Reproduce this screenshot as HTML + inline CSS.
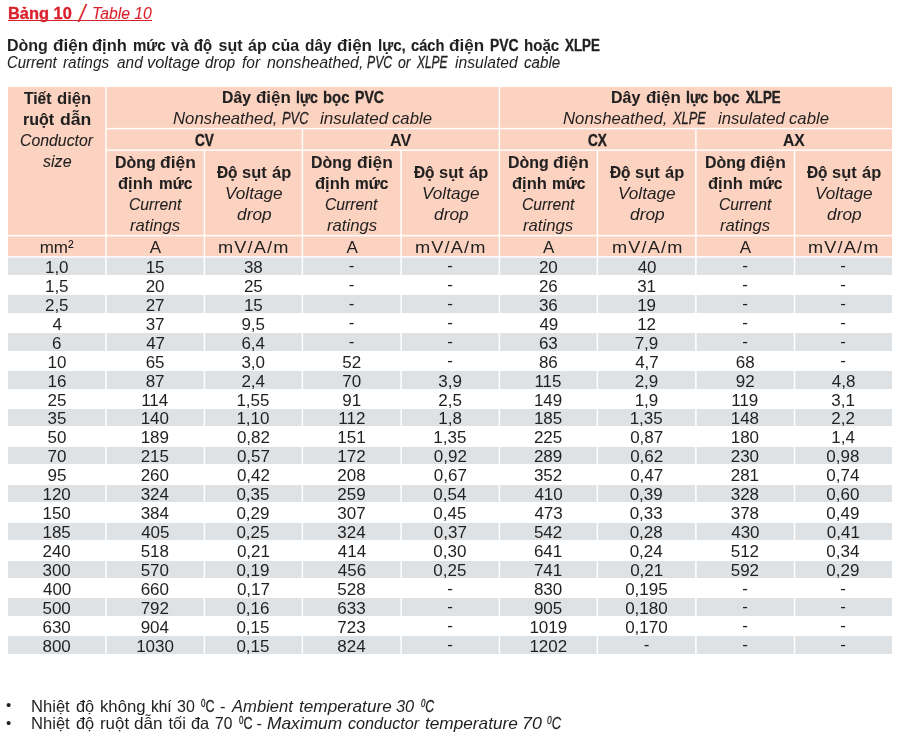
<!DOCTYPE html><html><head><meta charset="utf-8"><title>Bảng 10</title><style>
html,body{margin:0;padding:0;background:#fff}
body{width:899px;height:737px;position:relative;overflow:hidden;font-family:"Liberation Sans", "DejaVu Sans", sans-serif;color:#231f20}
.b{position:absolute}
.t{position:absolute;white-space:nowrap;line-height:20px;height:20px}
.t span{display:inline-block}
.g{filter:grayscale(1)}
sup{font-size:0.64em;vertical-align:0;position:relative;top:-0.5em;line-height:0}
.w{position:absolute;background:#fff}

</style></head><body>
<div class="b" style="left:8px;top:87px;width:884px;height:170px;background:#fcd2c0"></div>
<div class="b" style="left:8px;top:257.30px;width:884px;height:17.5px;background:#dfe2e5"></div>
<div class="b" style="left:8px;top:295.20px;width:884px;height:17.5px;background:#dfe2e5"></div>
<div class="b" style="left:8px;top:333.10px;width:884px;height:17.5px;background:#dfe2e5"></div>
<div class="b" style="left:8px;top:371.00px;width:884px;height:17.5px;background:#dfe2e5"></div>
<div class="b" style="left:8px;top:408.90px;width:884px;height:17.5px;background:#dfe2e5"></div>
<div class="b" style="left:8px;top:446.80px;width:884px;height:17.5px;background:#dfe2e5"></div>
<div class="b" style="left:8px;top:484.70px;width:884px;height:17.5px;background:#dfe2e5"></div>
<div class="b" style="left:8px;top:522.60px;width:884px;height:17.5px;background:#dfe2e5"></div>
<div class="b" style="left:8px;top:560.50px;width:884px;height:17.5px;background:#dfe2e5"></div>
<div class="b" style="left:8px;top:598.40px;width:884px;height:17.5px;background:#dfe2e5"></div>
<div class="b" style="left:8px;top:636.30px;width:884px;height:17.5px;background:#dfe2e5"></div>
<div class="w" style="left:105px;top:86px;width:1px;height:568px;opacity:0.85"></div>
<div class="w" style="left:106px;top:86px;width:1px;height:568px;opacity:0.65"></div>
<div class="w" style="left:498px;top:86px;width:1px;height:568px;opacity:0.35"></div>
<div class="w" style="left:499px;top:86px;width:1px;height:568px;opacity:1.00"></div>
<div class="w" style="left:500px;top:86px;width:1px;height:568px;opacity:0.15"></div>
<div class="w" style="left:301px;top:128px;width:1px;height:526px;opacity:0.35"></div>
<div class="w" style="left:302px;top:128px;width:1px;height:526px;opacity:1.00"></div>
<div class="w" style="left:303px;top:128px;width:1px;height:526px;opacity:0.15"></div>
<div class="w" style="left:695px;top:128px;width:1px;height:526px;opacity:0.85"></div>
<div class="w" style="left:696px;top:128px;width:1px;height:526px;opacity:0.65"></div>
<div class="w" style="left:203px;top:150px;width:1px;height:504px;opacity:0.35"></div>
<div class="w" style="left:204px;top:150px;width:1px;height:504px;opacity:1.00"></div>
<div class="w" style="left:205px;top:150px;width:1px;height:504px;opacity:0.15"></div>
<div class="w" style="left:400px;top:150px;width:1px;height:504px;opacity:0.65"></div>
<div class="w" style="left:401px;top:150px;width:1px;height:504px;opacity:0.85"></div>
<div class="w" style="left:596px;top:150px;width:1px;height:504px;opacity:0.35"></div>
<div class="w" style="left:597px;top:150px;width:1px;height:504px;opacity:1.00"></div>
<div class="w" style="left:598px;top:150px;width:1px;height:504px;opacity:0.15"></div>
<div class="w" style="left:793px;top:150px;width:1px;height:504px;opacity:0.25"></div>
<div class="w" style="left:794px;top:150px;width:1px;height:504px;opacity:1.00"></div>
<div class="w" style="left:795px;top:150px;width:1px;height:504px;opacity:0.25"></div>
<div class="w" style="left:106px;top:127px;width:786px;height:1px;opacity:0.15"></div>
<div class="w" style="left:106px;top:128px;width:786px;height:1px;opacity:1.00"></div>
<div class="w" style="left:106px;top:129px;width:786px;height:1px;opacity:0.35"></div>
<div class="w" style="left:106px;top:149px;width:786px;height:1px;opacity:0.55"></div>
<div class="w" style="left:106px;top:150px;width:786px;height:1px;opacity:0.95"></div>
<div class="w" style="left:8px;top:234px;width:884px;height:1px;opacity:0.15"></div>
<div class="w" style="left:8px;top:235px;width:884px;height:1px;opacity:1.00"></div>
<div class="w" style="left:8px;top:236px;width:884px;height:1px;opacity:0.35"></div>
<div class="w" style="left:8px;top:256px;width:884px;height:1px;opacity:0.85"></div>
<div class="w" style="left:8px;top:257px;width:884px;height:1px;opacity:0.65"></div>
<div class="b" style="left:8px;top:20px;width:144px;height:1px;background:#d9222d"></div>
<div class="t g" style="left:23.50px;top:89px"><span style="font-size:17.0px;font-weight:bold;transform:scaleX(0.9133);transform-origin:0 50%;-webkit-text-stroke:0.19px;">Tiết</span></div>
<div class="t g" style="left:57.02px;top:89px"><span style="font-size:17.0px;font-weight:bold;transform:scaleX(0.9818);transform-origin:0 50%;">diện</span></div>
<div class="t g" style="left:23.06px;top:110px"><span style="font-size:17.0px;font-weight:bold;transform:scaleX(0.9438);transform-origin:0 50%;-webkit-text-stroke:0.12px;">ruột</span></div>
<div class="t g" style="left:59.86px;top:110px"><span style="font-size:17.0px;font-weight:bold;transform:scaleX(1.0393);transform-origin:0 50%;">dẫn</span></div>
<div class="t g" style="left:19.97px;top:131px"><span style="font-size:17.0px;font-style:italic;transform:scaleX(0.9308);transform-origin:0 50%;-webkit-text-stroke:0.09px;">Conductor</span></div>
<div class="t g" style="left:42.60px;top:152px"><span style="font-size:17.0px;font-style:italic;transform:scaleX(0.9467);transform-origin:0 50%;-webkit-text-stroke:0.07px;">size</span></div>
<div class="t g" style="left:221.97px;top:88px"><span style="font-size:17.0px;font-weight:bold;transform:scaleX(0.9267);transform-origin:0 50%;-webkit-text-stroke:0.16px;">Dây</span></div>
<div class="t g" style="left:255.90px;top:88px"><span style="font-size:17.0px;font-weight:bold;transform:scaleX(0.9970);transform-origin:0 50%;">điện</span></div>
<div class="t g" style="left:295.67px;top:88px"><span style="font-size:17.0px;font-weight:bold;transform:scaleX(0.8280);transform-origin:0 50%;-webkit-text-stroke:0.38px;">lực</span></div>
<div class="t g" style="left:323.32px;top:88px"><span style="font-size:17.0px;font-weight:bold;transform:scaleX(0.8759);transform-origin:0 50%;-webkit-text-stroke:0.27px;">bọc</span></div>
<div class="t g" style="left:354.97px;top:88px"><span style="font-size:17.0px;font-weight:bold;transform:scaleX(0.8273);transform-origin:0 50%;-webkit-text-stroke:0.38px;">PVC</span></div>
<div class="t g" style="left:173.01px;top:109px"><span style="font-size:17.0px;font-style:italic;transform:scaleX(0.9864);transform-origin:0 50%;">Nonsheathed,</span></div>
<div class="t g" style="left:281.94px;top:109px"><span style="font-size:17.0px;font-style:italic;transform:scaleX(0.7588);transform-origin:0 50%;-webkit-text-stroke:0.31px;">PVC</span></div>
<div class="t g" style="left:320.20px;top:109px"><span style="font-size:17.0px;font-style:italic;transform:scaleX(1.0029);transform-origin:0 50%;">insulated</span></div>
<div class="t g" style="left:392.32px;top:109px"><span style="font-size:17.0px;font-style:italic;transform:scaleX(0.9821);transform-origin:0 50%;">cable</span></div>
<div class="t g" style="left:611.06px;top:88px"><span style="font-size:17.0px;font-weight:bold;transform:scaleX(0.9400);transform-origin:0 50%;-webkit-text-stroke:0.13px;">Dây</span></div>
<div class="t g" style="left:645.90px;top:88px"><span style="font-size:17.0px;font-weight:bold;transform:scaleX(0.9970);transform-origin:0 50%;">điện</span></div>
<div class="t g" style="left:685.66px;top:88px"><span style="font-size:17.0px;font-weight:bold;transform:scaleX(0.8360);transform-origin:0 50%;-webkit-text-stroke:0.36px;">lực</span></div>
<div class="t g" style="left:713.32px;top:88px"><span style="font-size:17.0px;font-weight:bold;transform:scaleX(0.8759);transform-origin:0 50%;-webkit-text-stroke:0.27px;">bọc</span></div>
<div class="t g" style="left:745.80px;top:88px"><span style="font-size:17.0px;font-weight:bold;transform:scaleX(0.7773);transform-origin:0 50%;-webkit-text-stroke:0.49px;">XLPE</span></div>
<div class="t g" style="left:563.01px;top:109px"><span style="font-size:17.0px;font-style:italic;transform:scaleX(0.9864);transform-origin:0 50%;">Nonsheathed,</span></div>
<div class="t g" style="left:672.70px;top:109px"><span style="font-size:17.0px;font-style:italic;transform:scaleX(0.7545);transform-origin:0 50%;-webkit-text-stroke:0.32px;">XLPE</span></div>
<div class="t g" style="left:717.80px;top:109px"><span style="font-size:17.0px;font-style:italic;transform:scaleX(0.9809);transform-origin:0 50%;">insulated</span></div>
<div class="t g" style="left:789.22px;top:109px"><span style="font-size:17.0px;font-style:italic;transform:scaleX(0.9821);transform-origin:0 50%;">cable</span></div>
<div class="t g" style="left:195.10px;top:131px"><span style="font-size:17.0px;font-weight:bold;transform:scaleX(0.8000);transform-origin:0 50%;-webkit-text-stroke:0.44px;">CV</span></div>
<div class="t g" style="left:389.95px;top:131px"><span style="font-size:17.0px;font-weight:bold;transform:scaleX(0.9524);transform-origin:0 50%;">AV</span></div>
<div class="t g" style="left:588.30px;top:131px"><span style="font-size:17.0px;font-weight:bold;transform:scaleX(0.8000);transform-origin:0 50%;-webkit-text-stroke:0.44px;">CX</span></div>
<div class="t g" style="left:783.28px;top:131px"><span style="font-size:17.0px;font-weight:bold;transform:scaleX(0.9227);transform-origin:0 50%;-webkit-text-stroke:0.17px;">AX</span></div>
<div class="t g" style="left:114.66px;top:153px"><span style="font-size:17.0px;font-weight:bold;transform:scaleX(0.9366);transform-origin:0 50%;-webkit-text-stroke:0.14px;">Dòng</span></div>
<div class="t g" style="left:159.98px;top:153px"><span style="font-size:17.0px;font-weight:bold;transform:scaleX(1.0242);transform-origin:0 50%;">điện</span></div>
<div class="t g" style="left:118.43px;top:174px"><span style="font-size:17.0px;font-weight:bold;transform:scaleX(0.9735);transform-origin:0 50%;">định</span></div>
<div class="t g" style="left:158.59px;top:174px"><span style="font-size:17.0px;font-weight:bold;transform:scaleX(0.9057);transform-origin:0 50%;-webkit-text-stroke:0.21px;">mức</span></div>
<div class="t g" style="left:128.58px;top:195px"><span style="font-size:17.0px;font-style:italic;transform:scaleX(0.9232);transform-origin:0 50%;-webkit-text-stroke:0.10px;">Current</span></div>
<div class="t g" style="left:130.10px;top:216px"><span style="font-size:17.0px;font-style:italic;transform:scaleX(0.9824);transform-origin:0 50%;">ratings</span></div>
<div class="t g" style="left:217.20px;top:163px"><span style="font-size:17.0px;font-weight:bold;transform:scaleX(0.9045);transform-origin:0 50%;-webkit-text-stroke:0.21px;">Độ</span></div>
<div class="t g" style="left:242.23px;top:163px"><span style="font-size:17.0px;font-weight:bold;transform:scaleX(0.9667);transform-origin:0 50%;">sụt</span></div>
<div class="t g" style="left:272.00px;top:163px"><span style="font-size:17.0px;font-weight:bold;transform:scaleX(0.9684);transform-origin:0 50%;">áp</span></div>
<div class="t g" style="left:224.68px;top:184px"><span style="font-size:17.0px;font-style:italic;transform:scaleX(1.0093);transform-origin:0 50%;">Voltage</span></div>
<div class="t g" style="left:236.68px;top:205px"><span style="font-size:17.0px;font-style:italic;transform:scaleX(1.0188);transform-origin:0 50%;">drop</span></div>
<div class="t g" style="left:311.26px;top:153px"><span style="font-size:17.0px;font-weight:bold;transform:scaleX(0.9366);transform-origin:0 50%;-webkit-text-stroke:0.14px;">Dòng</span></div>
<div class="t g" style="left:356.58px;top:153px"><span style="font-size:17.0px;font-weight:bold;transform:scaleX(1.0242);transform-origin:0 50%;">điện</span></div>
<div class="t g" style="left:315.03px;top:174px"><span style="font-size:17.0px;font-weight:bold;transform:scaleX(0.9735);transform-origin:0 50%;">định</span></div>
<div class="t g" style="left:355.19px;top:174px"><span style="font-size:17.0px;font-weight:bold;transform:scaleX(0.9057);transform-origin:0 50%;-webkit-text-stroke:0.21px;">mức</span></div>
<div class="t g" style="left:325.18px;top:195px"><span style="font-size:17.0px;font-style:italic;transform:scaleX(0.9232);transform-origin:0 50%;-webkit-text-stroke:0.10px;">Current</span></div>
<div class="t g" style="left:326.70px;top:216px"><span style="font-size:17.0px;font-style:italic;transform:scaleX(0.9824);transform-origin:0 50%;">ratings</span></div>
<div class="t g" style="left:414.05px;top:163px"><span style="font-size:17.0px;font-weight:bold;transform:scaleX(0.9045);transform-origin:0 50%;-webkit-text-stroke:0.21px;">Độ</span></div>
<div class="t g" style="left:439.08px;top:163px"><span style="font-size:17.0px;font-weight:bold;transform:scaleX(0.9667);transform-origin:0 50%;">sụt</span></div>
<div class="t g" style="left:468.85px;top:163px"><span style="font-size:17.0px;font-weight:bold;transform:scaleX(0.9684);transform-origin:0 50%;">áp</span></div>
<div class="t g" style="left:421.53px;top:184px"><span style="font-size:17.0px;font-style:italic;transform:scaleX(1.0093);transform-origin:0 50%;">Voltage</span></div>
<div class="t g" style="left:433.53px;top:205px"><span style="font-size:17.0px;font-style:italic;transform:scaleX(1.0188);transform-origin:0 50%;">drop</span></div>
<div class="t g" style="left:507.91px;top:153px"><span style="font-size:17.0px;font-weight:bold;transform:scaleX(0.9366);transform-origin:0 50%;-webkit-text-stroke:0.14px;">Dòng</span></div>
<div class="t g" style="left:553.23px;top:153px"><span style="font-size:17.0px;font-weight:bold;transform:scaleX(1.0242);transform-origin:0 50%;">điện</span></div>
<div class="t g" style="left:511.68px;top:174px"><span style="font-size:17.0px;font-weight:bold;transform:scaleX(0.9735);transform-origin:0 50%;">định</span></div>
<div class="t g" style="left:551.84px;top:174px"><span style="font-size:17.0px;font-weight:bold;transform:scaleX(0.9057);transform-origin:0 50%;-webkit-text-stroke:0.21px;">mức</span></div>
<div class="t g" style="left:521.83px;top:195px"><span style="font-size:17.0px;font-style:italic;transform:scaleX(0.9232);transform-origin:0 50%;-webkit-text-stroke:0.10px;">Current</span></div>
<div class="t g" style="left:523.35px;top:216px"><span style="font-size:17.0px;font-style:italic;transform:scaleX(0.9824);transform-origin:0 50%;">ratings</span></div>
<div class="t g" style="left:610.45px;top:163px"><span style="font-size:17.0px;font-weight:bold;transform:scaleX(0.9045);transform-origin:0 50%;-webkit-text-stroke:0.21px;">Độ</span></div>
<div class="t g" style="left:635.48px;top:163px"><span style="font-size:17.0px;font-weight:bold;transform:scaleX(0.9667);transform-origin:0 50%;">sụt</span></div>
<div class="t g" style="left:665.25px;top:163px"><span style="font-size:17.0px;font-weight:bold;transform:scaleX(0.9684);transform-origin:0 50%;">áp</span></div>
<div class="t g" style="left:617.93px;top:184px"><span style="font-size:17.0px;font-style:italic;transform:scaleX(1.0093);transform-origin:0 50%;">Voltage</span></div>
<div class="t g" style="left:629.93px;top:205px"><span style="font-size:17.0px;font-style:italic;transform:scaleX(1.0187);transform-origin:0 50%;">drop</span></div>
<div class="t g" style="left:704.71px;top:153px"><span style="font-size:17.0px;font-weight:bold;transform:scaleX(0.9366);transform-origin:0 50%;-webkit-text-stroke:0.14px;">Dòng</span></div>
<div class="t g" style="left:750.03px;top:153px"><span style="font-size:17.0px;font-weight:bold;transform:scaleX(1.0242);transform-origin:0 50%;">điện</span></div>
<div class="t g" style="left:708.48px;top:174px"><span style="font-size:17.0px;font-weight:bold;transform:scaleX(0.9735);transform-origin:0 50%;">định</span></div>
<div class="t g" style="left:748.64px;top:174px"><span style="font-size:17.0px;font-weight:bold;transform:scaleX(0.9057);transform-origin:0 50%;-webkit-text-stroke:0.21px;">mức</span></div>
<div class="t g" style="left:718.63px;top:195px"><span style="font-size:17.0px;font-style:italic;transform:scaleX(0.9232);transform-origin:0 50%;-webkit-text-stroke:0.10px;">Current</span></div>
<div class="t g" style="left:720.15px;top:216px"><span style="font-size:17.0px;font-style:italic;transform:scaleX(0.9824);transform-origin:0 50%;">ratings</span></div>
<div class="t g" style="left:807.05px;top:163px"><span style="font-size:17.0px;font-weight:bold;transform:scaleX(0.9045);transform-origin:0 50%;-webkit-text-stroke:0.21px;">Độ</span></div>
<div class="t g" style="left:832.08px;top:163px"><span style="font-size:17.0px;font-weight:bold;transform:scaleX(0.9667);transform-origin:0 50%;">sụt</span></div>
<div class="t g" style="left:861.85px;top:163px"><span style="font-size:17.0px;font-weight:bold;transform:scaleX(0.9684);transform-origin:0 50%;">áp</span></div>
<div class="t g" style="left:814.53px;top:184px"><span style="font-size:17.0px;font-style:italic;transform:scaleX(1.0093);transform-origin:0 50%;">Voltage</span></div>
<div class="t g" style="left:826.53px;top:205px"><span style="font-size:17.0px;font-style:italic;transform:scaleX(1.0188);transform-origin:0 50%;">drop</span></div>
<div class="t g" style="left:39.70px;top:238px"><span style="font-size:17.0px;">mm²</span></div>
<div class="t g" style="left:149.80px;top:238px"><span style="font-size:17.0px;">A</span></div>
<div class="t g" style="left:218.43px;top:238px"><span style="font-size:17.0px;transform:scaleX(1.0700);transform-origin:0 50%;letter-spacing:1.07px;">mV/A/m</span></div>
<div class="t g" style="left:346.40px;top:238px"><span style="font-size:17.0px;">A</span></div>
<div class="t g" style="left:415.28px;top:238px"><span style="font-size:17.0px;transform:scaleX(1.0700);transform-origin:0 50%;letter-spacing:1.07px;">mV/A/m</span></div>
<div class="t g" style="left:543.05px;top:238px"><span style="font-size:17.0px;">A</span></div>
<div class="t g" style="left:611.68px;top:238px"><span style="font-size:17.0px;transform:scaleX(1.0700);transform-origin:0 50%;letter-spacing:1.07px;">mV/A/m</span></div>
<div class="t g" style="left:739.85px;top:238px"><span style="font-size:17.0px;">A</span></div>
<div class="t g" style="left:808.28px;top:238px"><span style="font-size:17.0px;transform:scaleX(1.0700);transform-origin:0 50%;letter-spacing:1.07px;">mV/A/m</span></div>
<div class="t g" style="left:44.95px;top:258px"><span style="font-size:17.0px;">1,0</span></div>
<div class="t g" style="left:145.65px;top:258px"><span style="font-size:17.0px;">15</span></div>
<div class="t g" style="left:243.90px;top:258px"><span style="font-size:17.0px;">38</span></div>
<div class="t g" style="left:348.75px;top:256px"><span style="font-size:17.0px;">-</span></div>
<div class="t g" style="left:447.25px;top:256px"><span style="font-size:17.0px;">-</span></div>
<div class="t g" style="left:538.90px;top:258px"><span style="font-size:17.0px;">20</span></div>
<div class="t g" style="left:637.65px;top:258px"><span style="font-size:17.0px;">40</span></div>
<div class="t g" style="left:742.20px;top:256px"><span style="font-size:17.0px;">-</span></div>
<div class="t g" style="left:840.25px;top:256px"><span style="font-size:17.0px;">-</span></div>
<div class="t g" style="left:44.95px;top:277px"><span style="font-size:17.0px;">1,5</span></div>
<div class="t g" style="left:145.65px;top:277px"><span style="font-size:17.0px;">20</span></div>
<div class="t g" style="left:243.90px;top:277px"><span style="font-size:17.0px;">25</span></div>
<div class="t g" style="left:348.75px;top:275px"><span style="font-size:17.0px;">-</span></div>
<div class="t g" style="left:447.25px;top:275px"><span style="font-size:17.0px;">-</span></div>
<div class="t g" style="left:538.90px;top:277px"><span style="font-size:17.0px;">26</span></div>
<div class="t g" style="left:637.15px;top:277px"><span style="font-size:17.0px;">31</span></div>
<div class="t g" style="left:742.20px;top:275px"><span style="font-size:17.0px;">-</span></div>
<div class="t g" style="left:840.25px;top:275px"><span style="font-size:17.0px;">-</span></div>
<div class="t g" style="left:44.95px;top:296px"><span style="font-size:17.0px;">2,5</span></div>
<div class="t g" style="left:145.65px;top:296px"><span style="font-size:17.0px;">27</span></div>
<div class="t g" style="left:243.90px;top:296px"><span style="font-size:17.0px;">15</span></div>
<div class="t g" style="left:348.75px;top:294px"><span style="font-size:17.0px;">-</span></div>
<div class="t g" style="left:447.25px;top:294px"><span style="font-size:17.0px;">-</span></div>
<div class="t g" style="left:538.90px;top:296px"><span style="font-size:17.0px;">36</span></div>
<div class="t g" style="left:637.15px;top:296px"><span style="font-size:17.0px;">19</span></div>
<div class="t g" style="left:742.20px;top:294px"><span style="font-size:17.0px;">-</span></div>
<div class="t g" style="left:840.25px;top:294px"><span style="font-size:17.0px;">-</span></div>
<div class="t g" style="left:52.45px;top:315px"><span style="font-size:17.0px;">4</span></div>
<div class="t g" style="left:145.65px;top:315px"><span style="font-size:17.0px;">37</span></div>
<div class="t g" style="left:241.40px;top:315px"><span style="font-size:17.0px;">9,5</span></div>
<div class="t g" style="left:348.75px;top:313px"><span style="font-size:17.0px;">-</span></div>
<div class="t g" style="left:447.25px;top:313px"><span style="font-size:17.0px;">-</span></div>
<div class="t g" style="left:539.40px;top:315px"><span style="font-size:17.0px;">49</span></div>
<div class="t g" style="left:637.15px;top:315px"><span style="font-size:17.0px;">12</span></div>
<div class="t g" style="left:742.20px;top:313px"><span style="font-size:17.0px;">-</span></div>
<div class="t g" style="left:840.25px;top:313px"><span style="font-size:17.0px;">-</span></div>
<div class="t g" style="left:51.95px;top:334px"><span style="font-size:17.0px;">6</span></div>
<div class="t g" style="left:146.15px;top:334px"><span style="font-size:17.0px;">47</span></div>
<div class="t g" style="left:241.40px;top:334px"><span style="font-size:17.0px;">6,4</span></div>
<div class="t g" style="left:348.75px;top:332px"><span style="font-size:17.0px;">-</span></div>
<div class="t g" style="left:447.25px;top:332px"><span style="font-size:17.0px;">-</span></div>
<div class="t g" style="left:538.90px;top:334px"><span style="font-size:17.0px;">63</span></div>
<div class="t g" style="left:634.65px;top:334px"><span style="font-size:17.0px;">7,9</span></div>
<div class="t g" style="left:742.20px;top:332px"><span style="font-size:17.0px;">-</span></div>
<div class="t g" style="left:840.25px;top:332px"><span style="font-size:17.0px;">-</span></div>
<div class="t g" style="left:47.45px;top:353px"><span style="font-size:17.0px;">10</span></div>
<div class="t g" style="left:145.65px;top:353px"><span style="font-size:17.0px;">65</span></div>
<div class="t g" style="left:241.40px;top:353px"><span style="font-size:17.0px;">3,0</span></div>
<div class="t g" style="left:342.25px;top:353px"><span style="font-size:17.0px;">52</span></div>
<div class="t g" style="left:447.25px;top:351px"><span style="font-size:17.0px;">-</span></div>
<div class="t g" style="left:538.90px;top:353px"><span style="font-size:17.0px;">86</span></div>
<div class="t g" style="left:635.15px;top:353px"><span style="font-size:17.0px;">4,7</span></div>
<div class="t g" style="left:735.70px;top:353px"><span style="font-size:17.0px;">68</span></div>
<div class="t g" style="left:840.25px;top:351px"><span style="font-size:17.0px;">-</span></div>
<div class="t g" style="left:47.45px;top:372px"><span style="font-size:17.0px;">16</span></div>
<div class="t g" style="left:145.65px;top:372px"><span style="font-size:17.0px;">87</span></div>
<div class="t g" style="left:241.40px;top:372px"><span style="font-size:17.0px;">2,4</span></div>
<div class="t g" style="left:342.25px;top:372px"><span style="font-size:17.0px;">70</span></div>
<div class="t g" style="left:438.25px;top:372px"><span style="font-size:17.0px;">3,9</span></div>
<div class="t g" style="left:534.40px;top:372px"><span style="font-size:17.0px;">115</span></div>
<div class="t g" style="left:634.65px;top:372px"><span style="font-size:17.0px;">2,9</span></div>
<div class="t g" style="left:735.70px;top:372px"><span style="font-size:17.0px;">92</span></div>
<div class="t g" style="left:831.75px;top:372px"><span style="font-size:17.0px;">4,8</span></div>
<div class="t g" style="left:47.45px;top:391px"><span style="font-size:17.0px;">25</span></div>
<div class="t g" style="left:141.15px;top:391px"><span style="font-size:17.0px;">114</span></div>
<div class="t g" style="left:236.40px;top:391px"><span style="font-size:17.0px;">1,55</span></div>
<div class="t g" style="left:342.25px;top:391px"><span style="font-size:17.0px;">91</span></div>
<div class="t g" style="left:438.25px;top:391px"><span style="font-size:17.0px;">2,5</span></div>
<div class="t g" style="left:533.90px;top:391px"><span style="font-size:17.0px;">149</span></div>
<div class="t g" style="left:634.65px;top:391px"><span style="font-size:17.0px;">1,9</span></div>
<div class="t g" style="left:731.20px;top:391px"><span style="font-size:17.0px;">119</span></div>
<div class="t g" style="left:831.25px;top:391px"><span style="font-size:17.0px;">3,1</span></div>
<div class="t g" style="left:47.45px;top:409px"><span style="font-size:17.0px;">35</span></div>
<div class="t g" style="left:140.65px;top:409px"><span style="font-size:17.0px;">140</span></div>
<div class="t g" style="left:236.40px;top:409px"><span style="font-size:17.0px;">1,10</span></div>
<div class="t g" style="left:338.25px;top:409px"><span style="font-size:17.0px;">112</span></div>
<div class="t g" style="left:438.25px;top:409px"><span style="font-size:17.0px;">1,8</span></div>
<div class="t g" style="left:533.90px;top:409px"><span style="font-size:17.0px;">185</span></div>
<div class="t g" style="left:629.65px;top:409px"><span style="font-size:17.0px;">1,35</span></div>
<div class="t g" style="left:730.70px;top:409px"><span style="font-size:17.0px;">148</span></div>
<div class="t g" style="left:831.25px;top:409px"><span style="font-size:17.0px;">2,2</span></div>
<div class="t g" style="left:47.45px;top:428px"><span style="font-size:17.0px;">50</span></div>
<div class="t g" style="left:140.65px;top:428px"><span style="font-size:17.0px;">189</span></div>
<div class="t g" style="left:236.90px;top:428px"><span style="font-size:17.0px;">0,82</span></div>
<div class="t g" style="left:337.25px;top:428px"><span style="font-size:17.0px;">151</span></div>
<div class="t g" style="left:433.25px;top:428px"><span style="font-size:17.0px;">1,35</span></div>
<div class="t g" style="left:533.90px;top:428px"><span style="font-size:17.0px;">225</span></div>
<div class="t g" style="left:630.15px;top:428px"><span style="font-size:17.0px;">0,87</span></div>
<div class="t g" style="left:730.70px;top:428px"><span style="font-size:17.0px;">180</span></div>
<div class="t g" style="left:831.25px;top:428px"><span style="font-size:17.0px;">1,4</span></div>
<div class="t g" style="left:47.45px;top:447px"><span style="font-size:17.0px;">70</span></div>
<div class="t g" style="left:140.65px;top:447px"><span style="font-size:17.0px;">215</span></div>
<div class="t g" style="left:236.90px;top:447px"><span style="font-size:17.0px;">0,57</span></div>
<div class="t g" style="left:337.25px;top:447px"><span style="font-size:17.0px;">172</span></div>
<div class="t g" style="left:433.75px;top:447px"><span style="font-size:17.0px;">0,92</span></div>
<div class="t g" style="left:533.90px;top:447px"><span style="font-size:17.0px;">289</span></div>
<div class="t g" style="left:630.15px;top:447px"><span style="font-size:17.0px;">0,62</span></div>
<div class="t g" style="left:730.70px;top:447px"><span style="font-size:17.0px;">230</span></div>
<div class="t g" style="left:826.25px;top:447px"><span style="font-size:17.0px;">0,98</span></div>
<div class="t g" style="left:47.45px;top:466px"><span style="font-size:17.0px;">95</span></div>
<div class="t g" style="left:140.65px;top:466px"><span style="font-size:17.0px;">260</span></div>
<div class="t g" style="left:236.90px;top:466px"><span style="font-size:17.0px;">0,42</span></div>
<div class="t g" style="left:337.25px;top:466px"><span style="font-size:17.0px;">208</span></div>
<div class="t g" style="left:433.75px;top:466px"><span style="font-size:17.0px;">0,67</span></div>
<div class="t g" style="left:533.90px;top:466px"><span style="font-size:17.0px;">352</span></div>
<div class="t g" style="left:630.15px;top:466px"><span style="font-size:17.0px;">0,47</span></div>
<div class="t g" style="left:730.70px;top:466px"><span style="font-size:17.0px;">281</span></div>
<div class="t g" style="left:826.25px;top:466px"><span style="font-size:17.0px;">0,74</span></div>
<div class="t g" style="left:42.45px;top:485px"><span style="font-size:17.0px;">120</span></div>
<div class="t g" style="left:140.65px;top:485px"><span style="font-size:17.0px;">324</span></div>
<div class="t g" style="left:236.40px;top:485px"><span style="font-size:17.0px;">0,35</span></div>
<div class="t g" style="left:337.25px;top:485px"><span style="font-size:17.0px;">259</span></div>
<div class="t g" style="left:433.25px;top:485px"><span style="font-size:17.0px;">0,54</span></div>
<div class="t g" style="left:534.40px;top:485px"><span style="font-size:17.0px;">410</span></div>
<div class="t g" style="left:629.65px;top:485px"><span style="font-size:17.0px;">0,39</span></div>
<div class="t g" style="left:730.70px;top:485px"><span style="font-size:17.0px;">328</span></div>
<div class="t g" style="left:826.25px;top:485px"><span style="font-size:17.0px;">0,60</span></div>
<div class="t g" style="left:42.45px;top:504px"><span style="font-size:17.0px;">150</span></div>
<div class="t g" style="left:140.65px;top:504px"><span style="font-size:17.0px;">384</span></div>
<div class="t g" style="left:236.40px;top:504px"><span style="font-size:17.0px;">0,29</span></div>
<div class="t g" style="left:337.25px;top:504px"><span style="font-size:17.0px;">307</span></div>
<div class="t g" style="left:433.25px;top:504px"><span style="font-size:17.0px;">0,45</span></div>
<div class="t g" style="left:534.40px;top:504px"><span style="font-size:17.0px;">473</span></div>
<div class="t g" style="left:629.65px;top:504px"><span style="font-size:17.0px;">0,33</span></div>
<div class="t g" style="left:730.70px;top:504px"><span style="font-size:17.0px;">378</span></div>
<div class="t g" style="left:826.25px;top:504px"><span style="font-size:17.0px;">0,49</span></div>
<div class="t g" style="left:42.45px;top:523px"><span style="font-size:17.0px;">185</span></div>
<div class="t g" style="left:141.15px;top:523px"><span style="font-size:17.0px;">405</span></div>
<div class="t g" style="left:236.40px;top:523px"><span style="font-size:17.0px;">0,25</span></div>
<div class="t g" style="left:337.25px;top:523px"><span style="font-size:17.0px;">324</span></div>
<div class="t g" style="left:433.75px;top:523px"><span style="font-size:17.0px;">0,37</span></div>
<div class="t g" style="left:533.90px;top:523px"><span style="font-size:17.0px;">542</span></div>
<div class="t g" style="left:629.65px;top:523px"><span style="font-size:17.0px;">0,28</span></div>
<div class="t g" style="left:731.20px;top:523px"><span style="font-size:17.0px;">430</span></div>
<div class="t g" style="left:826.75px;top:523px"><span style="font-size:17.0px;">0,41</span></div>
<div class="t g" style="left:42.45px;top:542px"><span style="font-size:17.0px;">240</span></div>
<div class="t g" style="left:140.65px;top:542px"><span style="font-size:17.0px;">518</span></div>
<div class="t g" style="left:236.90px;top:542px"><span style="font-size:17.0px;">0,21</span></div>
<div class="t g" style="left:337.75px;top:542px"><span style="font-size:17.0px;">414</span></div>
<div class="t g" style="left:433.25px;top:542px"><span style="font-size:17.0px;">0,30</span></div>
<div class="t g" style="left:533.90px;top:542px"><span style="font-size:17.0px;">641</span></div>
<div class="t g" style="left:629.65px;top:542px"><span style="font-size:17.0px;">0,24</span></div>
<div class="t g" style="left:730.70px;top:542px"><span style="font-size:17.0px;">512</span></div>
<div class="t g" style="left:826.25px;top:542px"><span style="font-size:17.0px;">0,34</span></div>
<div class="t g" style="left:42.45px;top:561px"><span style="font-size:17.0px;">300</span></div>
<div class="t g" style="left:140.65px;top:561px"><span style="font-size:17.0px;">570</span></div>
<div class="t g" style="left:236.40px;top:561px"><span style="font-size:17.0px;">0,19</span></div>
<div class="t g" style="left:337.75px;top:561px"><span style="font-size:17.0px;">456</span></div>
<div class="t g" style="left:433.25px;top:561px"><span style="font-size:17.0px;">0,25</span></div>
<div class="t g" style="left:533.90px;top:561px"><span style="font-size:17.0px;">741</span></div>
<div class="t g" style="left:630.15px;top:561px"><span style="font-size:17.0px;">0,21</span></div>
<div class="t g" style="left:730.70px;top:561px"><span style="font-size:17.0px;">592</span></div>
<div class="t g" style="left:826.25px;top:561px"><span style="font-size:17.0px;">0,29</span></div>
<div class="t g" style="left:42.95px;top:580px"><span style="font-size:17.0px;">400</span></div>
<div class="t g" style="left:140.65px;top:580px"><span style="font-size:17.0px;">660</span></div>
<div class="t g" style="left:236.90px;top:580px"><span style="font-size:17.0px;">0,17</span></div>
<div class="t g" style="left:337.25px;top:580px"><span style="font-size:17.0px;">528</span></div>
<div class="t g" style="left:447.25px;top:579px"><span style="font-size:17.0px;">-</span></div>
<div class="t g" style="left:533.90px;top:580px"><span style="font-size:17.0px;">830</span></div>
<div class="t g" style="left:625.15px;top:580px"><span style="font-size:17.0px;">0,195</span></div>
<div class="t g" style="left:742.20px;top:579px"><span style="font-size:17.0px;">-</span></div>
<div class="t g" style="left:840.25px;top:579px"><span style="font-size:17.0px;">-</span></div>
<div class="t g" style="left:42.45px;top:599px"><span style="font-size:17.0px;">500</span></div>
<div class="t g" style="left:140.65px;top:599px"><span style="font-size:17.0px;">792</span></div>
<div class="t g" style="left:236.40px;top:599px"><span style="font-size:17.0px;">0,16</span></div>
<div class="t g" style="left:337.25px;top:599px"><span style="font-size:17.0px;">633</span></div>
<div class="t g" style="left:447.25px;top:597px"><span style="font-size:17.0px;">-</span></div>
<div class="t g" style="left:533.90px;top:599px"><span style="font-size:17.0px;">905</span></div>
<div class="t g" style="left:625.15px;top:599px"><span style="font-size:17.0px;">0,180</span></div>
<div class="t g" style="left:742.20px;top:597px"><span style="font-size:17.0px;">-</span></div>
<div class="t g" style="left:840.25px;top:597px"><span style="font-size:17.0px;">-</span></div>
<div class="t g" style="left:42.45px;top:618px"><span style="font-size:17.0px;">630</span></div>
<div class="t g" style="left:140.65px;top:618px"><span style="font-size:17.0px;">904</span></div>
<div class="t g" style="left:236.40px;top:618px"><span style="font-size:17.0px;">0,15</span></div>
<div class="t g" style="left:337.25px;top:618px"><span style="font-size:17.0px;">723</span></div>
<div class="t g" style="left:447.25px;top:616px"><span style="font-size:17.0px;">-</span></div>
<div class="t g" style="left:529.40px;top:618px"><span style="font-size:17.0px;">1019</span></div>
<div class="t g" style="left:625.15px;top:618px"><span style="font-size:17.0px;">0,170</span></div>
<div class="t g" style="left:742.20px;top:616px"><span style="font-size:17.0px;">-</span></div>
<div class="t g" style="left:840.25px;top:616px"><span style="font-size:17.0px;">-</span></div>
<div class="t g" style="left:42.45px;top:637px"><span style="font-size:17.0px;">800</span></div>
<div class="t g" style="left:136.15px;top:637px"><span style="font-size:17.0px;">1030</span></div>
<div class="t g" style="left:236.40px;top:637px"><span style="font-size:17.0px;">0,15</span></div>
<div class="t g" style="left:337.25px;top:637px"><span style="font-size:17.0px;">824</span></div>
<div class="t g" style="left:447.25px;top:635px"><span style="font-size:17.0px;">-</span></div>
<div class="t g" style="left:529.40px;top:637px"><span style="font-size:17.0px;">1202</span></div>
<div class="t g" style="left:643.65px;top:635px"><span style="font-size:17.0px;">-</span></div>
<div class="t g" style="left:742.20px;top:635px"><span style="font-size:17.0px;">-</span></div>
<div class="t g" style="left:840.25px;top:635px"><span style="font-size:17.0px;">-</span></div>
<div class="t" style="left:7.94px;top:4px"><span style="font-size:17px;font-weight:bold;color:#d9222d;transform:scaleX(0.9646);transform-origin:0 50%;-webkit-text-stroke:0.35px;">Bảng 10</span></div>
<div class="t" style="left:79.10px;top:4px"><span style="font-size:23px;font-style:italic;color:#d9222d;">/</span></div>
<div class="t" style="left:91.55px;top:4px"><span style="font-size:17px;font-style:italic;color:#d9222d;transform:scaleX(0.9270);transform-origin:0 50%;-webkit-text-stroke:0.09px;">Table 10</span></div>
<div class="t g" style="left:7.00px;top:36px"><span style="font-size:16px;font-weight:bold;">Dòng</span></div>
<div class="t g" style="left:52.53px;top:36px"><span style="font-size:16px;font-weight:bold;transform:scaleX(1.0710);transform-origin:0 50%;">điện</span></div>
<div class="t g" style="left:92.47px;top:36px"><span style="font-size:16px;font-weight:bold;transform:scaleX(1.0312);transform-origin:0 50%;">định</span></div>
<div class="t g" style="left:133.06px;top:36px"><span style="font-size:16px;font-weight:bold;transform:scaleX(0.9394);transform-origin:0 50%;-webkit-text-stroke:0.13px;">mức</span></div>
<div class="t g" style="left:171.00px;top:36px"><span style="font-size:16px;font-weight:bold;">và</span></div>
<div class="t g" style="left:194.08px;top:36px"><span style="font-size:16px;font-weight:bold;transform:scaleX(0.9167);transform-origin:0 50%;-webkit-text-stroke:0.18px;">độ</span></div>
<div class="t g" style="left:218.50px;top:36px"><span style="font-size:16px;font-weight:bold;">sụt</span></div>
<div class="t g" style="left:248.00px;top:36px"><span style="font-size:16px;font-weight:bold;">áp</span></div>
<div class="t g" style="left:271.50px;top:36px"><span style="font-size:16px;font-weight:bold;">của</span></div>
<div class="t g" style="left:304.53px;top:36px"><span style="font-size:16px;font-weight:bold;transform:scaleX(0.9667);transform-origin:0 50%;">dây</span></div>
<div class="t g" style="left:337.44px;top:36px"><span style="font-size:16px;font-weight:bold;transform:scaleX(1.0645);transform-origin:0 50%;">điện</span></div>
<div class="t g" style="left:377.56px;top:36px"><span style="font-size:16px;font-weight:bold;transform:scaleX(0.9444);transform-origin:0 50%;-webkit-text-stroke:0.12px;">lực,</span></div>
<div class="t g" style="left:410.59px;top:36px"><span style="font-size:16px;font-weight:bold;transform:scaleX(0.9143);transform-origin:0 50%;-webkit-text-stroke:0.19px;">cách</span></div>
<div class="t g" style="left:449.43px;top:36px"><span style="font-size:16px;font-weight:bold;transform:scaleX(1.0677);transform-origin:0 50%;">điện</span></div>
<div class="t g" style="left:490.13px;top:36px"><span style="font-size:16px;font-weight:bold;transform:scaleX(0.8710);transform-origin:0 50%;-webkit-text-stroke:0.28px;">PVC</span></div>
<div class="t g" style="left:524.06px;top:36px"><span style="font-size:16px;font-weight:bold;transform:scaleX(0.9444);transform-origin:0 50%;-webkit-text-stroke:0.12px;">hoặc</span></div>
<div class="t g" style="left:565.40px;top:36px"><span style="font-size:16px;font-weight:bold;transform:scaleX(0.8341);transform-origin:0 50%;-webkit-text-stroke:0.36px;">XLPE</span></div>
<div class="t g" style="left:7.07px;top:53px"><span style="font-size:16px;font-style:italic;transform:scaleX(0.9302);transform-origin:0 50%;-webkit-text-stroke:0.09px;">Current</span></div>
<div class="t g" style="left:63.40px;top:53px"><span style="font-size:16px;font-style:italic;transform:scaleX(0.9604);transform-origin:0 50%;">ratings</span></div>
<div class="t g" style="left:116.50px;top:53px"><span style="font-size:16px;font-style:italic;transform:scaleX(0.9630);transform-origin:0 50%;">and</span></div>
<div class="t g" style="left:147.47px;top:53px"><span style="font-size:16px;font-style:italic;transform:scaleX(1.0260);transform-origin:0 50%;">voltage</span></div>
<div class="t g" style="left:205.26px;top:53px"><span style="font-size:16px;font-style:italic;transform:scaleX(0.9419);transform-origin:0 50%;-webkit-text-stroke:0.08px;">drop</span></div>
<div class="t g" style="left:241.63px;top:53px"><span style="font-size:16px;font-style:italic;transform:scaleX(0.9667);transform-origin:0 50%;">for</span></div>
<div class="t g" style="left:266.60px;top:53px"><span style="font-size:16px;font-style:italic;transform:scaleX(0.9937);transform-origin:0 50%;">nonsheathed,</span></div>
<div class="t g" style="left:367.24px;top:53px"><span style="font-size:16px;font-style:italic;transform:scaleX(0.7625);transform-origin:0 50%;-webkit-text-stroke:0.31px;">PVC</span></div>
<div class="t g" style="left:397.82px;top:53px"><span style="font-size:16px;font-style:italic;transform:scaleX(0.8786);transform-origin:0 50%;-webkit-text-stroke:0.16px;">or</span></div>
<div class="t g" style="left:417.40px;top:53px"><span style="font-size:16px;font-style:italic;transform:scaleX(0.7463);transform-origin:0 50%;-webkit-text-stroke:0.33px;">XLPE</span></div>
<div class="t g" style="left:454.70px;top:53px"><span style="font-size:16px;font-style:italic;transform:scaleX(0.9785);transform-origin:0 50%;">insulated</span></div>
<div class="t g" style="left:523.55px;top:53px"><span style="font-size:16px;font-style:italic;transform:scaleX(0.9486);transform-origin:0 50%;-webkit-text-stroke:0.07px;">cable</span></div>
<div class="t g" style="left:5.90px;top:695px"><span style="font-size:15px;">•</span></div>
<div class="t g" style="left:5.90px;top:713px"><span style="font-size:15px;">•</span></div>
<div class="t g" style="left:31.49px;top:696px"><span style="font-size:16.5px;transform:scaleX(1.0053);transform-origin:0 50%;">Nhiệt</span></div>
<div class="t g" style="left:76.11px;top:696px"><span style="font-size:16.5px;transform:scaleX(0.9941);transform-origin:0 50%;">độ</span></div>
<div class="t g" style="left:99.69px;top:696px"><span style="font-size:16.5px;transform:scaleX(1.0140);transform-origin:0 50%;">không</span></div>
<div class="t g" style="left:151.07px;top:696px"><span style="font-size:16.5px;transform:scaleX(0.9333);transform-origin:0 50%;-webkit-text-stroke:0.09px;">khí</span></div>
<div class="t g" style="left:176.83px;top:696px"><span style="font-size:16.5px;transform:scaleX(0.9706);transform-origin:0 50%;">30</span></div>
<div class="t g" style="left:201.40px;top:696px"><span style="font-size:16.5px;transform:scaleX(0.7588);transform-origin:0 50%;-webkit-text-stroke:0.31px;"><sup>0</sup>C</span></div>
<div class="t g" style="left:220.10px;top:696px"><span style="font-size:16.5px;">-</span></div>
<div class="t g" style="left:231.91px;top:696px"><span style="font-size:16.5px;font-style:italic;transform:scaleX(1.0065);transform-origin:0 50%;">Ambient</span></div>
<div class="t g" style="left:298.96px;top:696px"><span style="font-size:16.5px;font-style:italic;transform:scaleX(1.0425);transform-origin:0 50%;">temperature</span></div>
<div class="t g" style="left:396.41px;top:696px"><span style="font-size:16.5px;font-style:italic;transform:scaleX(0.9941);transform-origin:0 50%;">30</span></div>
<div class="t g" style="left:421.40px;top:696px"><span style="font-size:16.5px;font-style:italic;transform:scaleX(0.7389);transform-origin:0 50%;-webkit-text-stroke:0.34px;"><sup>0</sup>C</span></div>
<div class="t g" style="left:31.49px;top:713px"><span style="font-size:16.5px;transform:scaleX(1.0053);transform-origin:0 50%;">Nhiệt</span></div>
<div class="t g" style="left:76.11px;top:713px"><span style="font-size:16.5px;transform:scaleX(0.9941);transform-origin:0 50%;">độ</span></div>
<div class="t g" style="left:99.68px;top:713px"><span style="font-size:16.5px;transform:scaleX(1.0222);transform-origin:0 50%;">ruột</span></div>
<div class="t g" style="left:134.36px;top:713px"><span style="font-size:16.5px;transform:scaleX(1.0400);transform-origin:0 50%;">dẫn</span></div>
<div class="t g" style="left:168.50px;top:713px"><span style="font-size:16.5px;">tối</span></div>
<div class="t g" style="left:190.61px;top:713px"><span style="font-size:16.5px;transform:scaleX(0.9941);transform-origin:0 50%;">đa</span></div>
<div class="t g" style="left:214.86px;top:713px"><span style="font-size:16.5px;transform:scaleX(0.9412);transform-origin:0 50%;-webkit-text-stroke:0.08px;">70</span></div>
<div class="t g" style="left:238.50px;top:713px"><span style="font-size:16.5px;transform:scaleX(0.7588);transform-origin:0 50%;-webkit-text-stroke:0.31px;"><sup>0</sup>C</span></div>
<div class="t g" style="left:256.60px;top:713px"><span style="font-size:16.5px;">-</span></div>
<div class="t g" style="left:266.75px;top:713px"><span style="font-size:16.5px;font-style:italic;transform:scaleX(1.0514);transform-origin:0 50%;">Maximum</span></div>
<div class="t g" style="left:347.52px;top:713px"><span style="font-size:16.5px;font-style:italic;transform:scaleX(0.9819);transform-origin:0 50%;">conductor</span></div>
<div class="t g" style="left:425.26px;top:713px"><span style="font-size:16.5px;font-style:italic;transform:scaleX(1.0437);transform-origin:0 50%;">temperature</span></div>
<div class="t g" style="left:522.14px;top:713px"><span style="font-size:16.5px;font-style:italic;transform:scaleX(1.0813);transform-origin:0 50%;">70</span></div>
<div class="t g" style="left:547.40px;top:713px"><span style="font-size:16.5px;font-style:italic;transform:scaleX(0.7889);transform-origin:0 50%;-webkit-text-stroke:0.27px;"><sup>0</sup>C</span></div>
</body></html>
